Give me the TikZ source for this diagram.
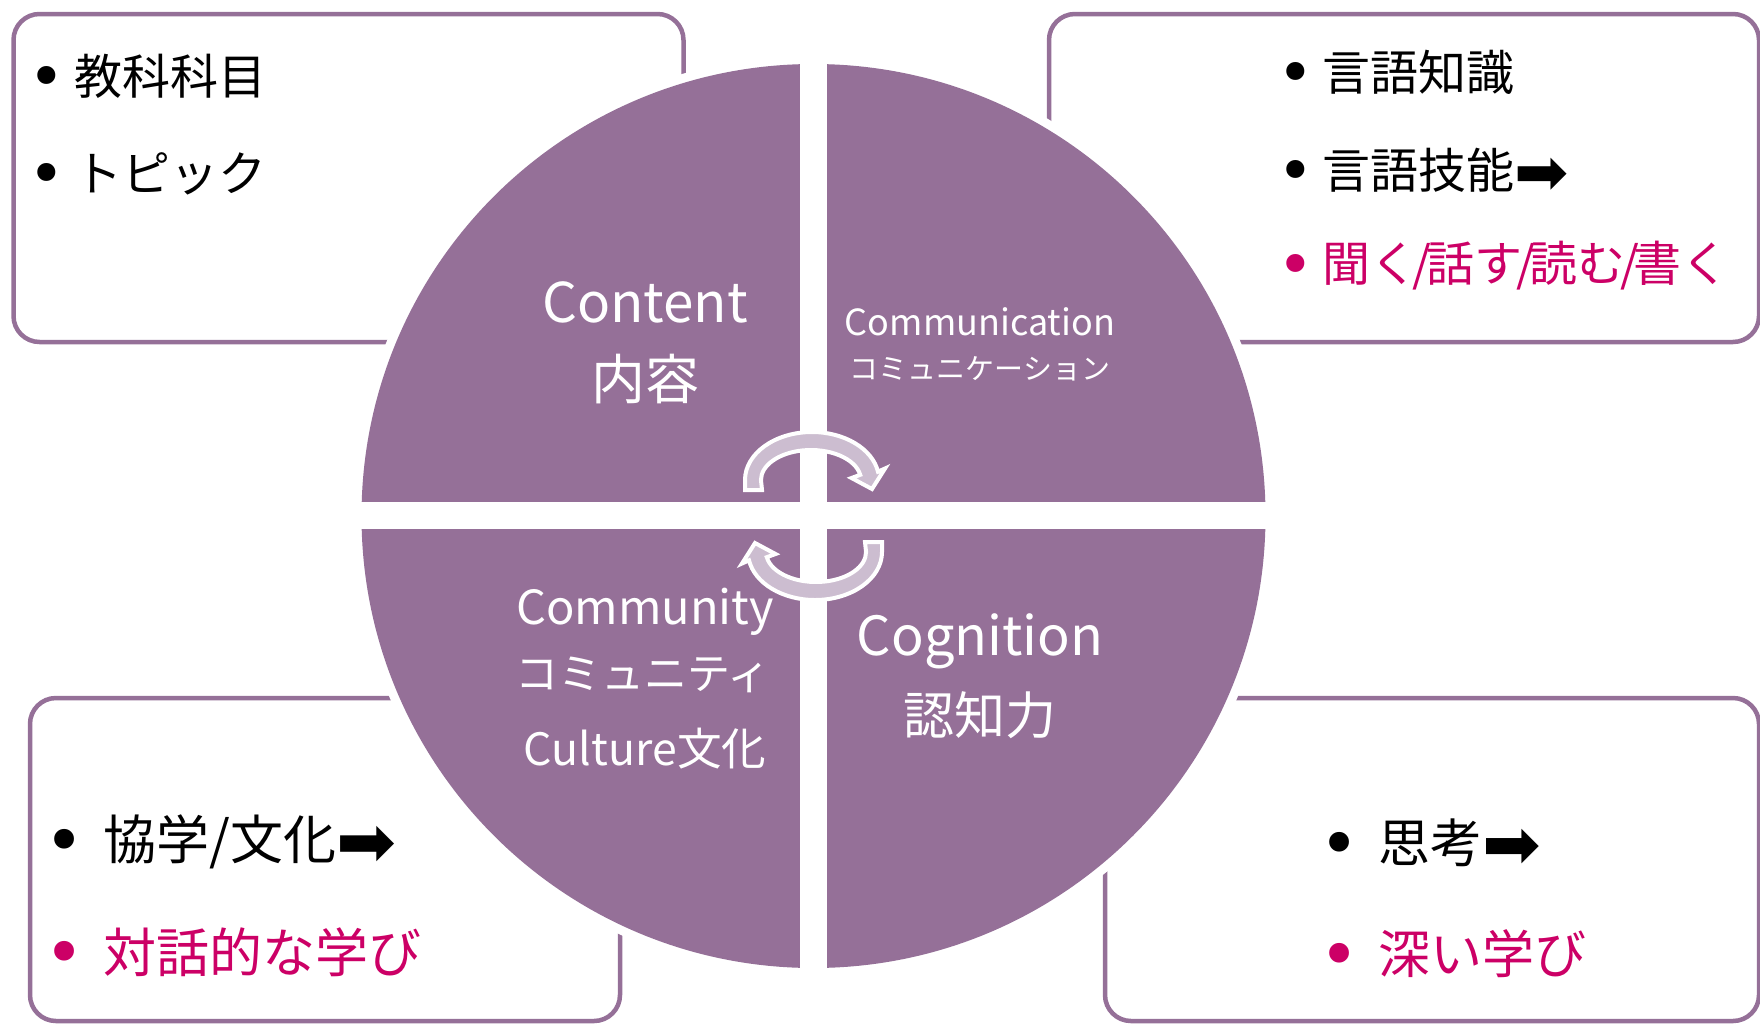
\documentclass[tikz,border=0pt]{standalone}
\usepackage{fontspec}
\setmainfont{Noto Sans CJK JP}
\newfontfamily\dejavu{DejaVu Sans}

\definecolor{plum}{RGB}{149,112,152}
\definecolor{lav}{RGB}{204,189,208}
\definecolor{rose}{RGB}{204,0,102}

\newcommand\setfs[1]{\fontsize{#1}{#1}\selectfont}
% bullet hanging to the left of the text start: #1 gap, #2 bullet size
\newcommand\itemdot[2]{\llap{\raisebox{-0.09em}{\dejavu\setfs{#2}•}\hspace{#1}}}
% heavy arrow after an entry: #1 size
\newcommand\goarrow[1]{\raisebox{-0.12em}{\dejavu\setfs{#1}➡}}
% tightened slash between the four skills
\newcommand\tslash{\kern-2.8pt/\kern-2.8pt}

\begin{document}
\begin{tikzpicture}[x=0.5pt, y=-0.5pt,
  panel/.style={draw=plum, line width=2.25pt, fill=white, rounded corners=13pt},
  hub/.style={text=white, inner sep=0pt},
  entry/.style={anchor=west, inner sep=0pt},
  turn/.style={fill=lav, draw=white, line width=2pt, line join=miter}
]
\useasboundingbox (0,0) rectangle (1760,1023);
\clip (0,0) rectangle (1760,1023);

% four outlined panels behind the wheel
\draw[panel] (13.5,14) rectangle (683.5,342);
\draw[panel] (1049,14) rectangle (1759,342);
\draw[panel] (30,698) rectangle (620,1021);
\draw[panel] (1105,698) rectangle (1759,1021);

% the wheel: white halo, purple disk, white cross
\fill[white] (813.5,516) circle[radius=461];
\fill[plum] (813.5,516) circle[radius=452];
\fill[white] (800.3,40) rectangle (827.2,990);
\fill[white] (340,501.7) rectangle (1290,528.7);

% cycle arrows in the middle
\filldraw[turn] (745,490) -- (745,480)
  arc[start angle=180, end angle=350, x radius=67, y radius=48]
  -- (885,468.5) -- (872,489) -- (851.5,478) -- (860.2,474.8)
  arc[start angle=350, end angle=180, x radius=50, y radius=30]
  -- (762,490) -- cycle;
\filldraw[turn, rotate around={180:(813.5,516)}] (745,490) -- (745,480)
  arc[start angle=180, end angle=350, x radius=67, y radius=48]
  -- (885,468.5) -- (872,489) -- (851.5,478) -- (860.2,474.8)
  arc[start angle=350, end angle=180, x radius=50, y radius=30]
  -- (762,490) -- cycle;

% quadrant labels
\node[hub, font=\setfs{27.4pt}] (content) at (645,302) {Content};
\node[hub, font=\setfs{27pt}] (contentjp) at (645,379) {内容};
\node[hub, font=\setfs{18pt}] (comm) at (980,322) {Communication};
\node[hub, font=\setfs{14.5pt}] (commjp) at (980,369) {コミュニケーション};
\node[hub, font=\setfs{23.5pt}] (cmty) at (645,612) {Community};
\node[hub, font=\setfs{21.5pt}] (cmtyjp) at (643,675) {コミュニティ};
\node[hub, font=\setfs{22.3pt}] (cult) at (645,749) {Culture文化};
\node[hub, font=\setfs{27pt}] (cog) at (980,641) {Cognition};
\node[hub, font=\setfs{25.5pt}] (cogjp) at (980,715) {認知力};

% panel entries
\node[entry, font=\setfs{24pt}] (subj) at (74,76) {\itemdot{4.5pt}{31pt}教科科目};
\node[entry, font=\setfs{24pt}] (topic) at (74,174) {\itemdot{4.5pt}{31pt}トピック};

\node[entry, font=\setfs{24pt}] (know) at (1322,72) {\itemdot{4.25pt}{31pt}言語知識};
\node[entry, font=\setfs{24pt}] (skill) at (1322,171) {\itemdot{4.25pt}{31pt}言語技能\goarrow{32.4pt}};
\node[entry, font=\setfs{24pt}, text=rose] (four) at (1322,266)
  {\itemdot{4.25pt}{31pt}聞く\tslash 話す\tslash 読む\tslash 書く};

\node[entry, font=\setfs{26.5pt}] (collab) at (103,842) {\itemdot{9.2pt}{34pt}協学/文化\goarrow{35.8pt}};
\node[entry, font=\setfs{26.5pt}, text=rose] (dialog) at (103,952) {\itemdot{9.2pt}{34pt}対話的な学び};

\node[entry, font=\setfs{26pt}] (think) at (1378,844) {\itemdot{9.3pt}{34pt}思考\goarrow{35pt}};
\node[entry, font=\setfs{26pt}, text=rose] (deep) at (1378,954) {\itemdot{9.3pt}{34pt}深い学び};
\end{tikzpicture}
\end{document}
